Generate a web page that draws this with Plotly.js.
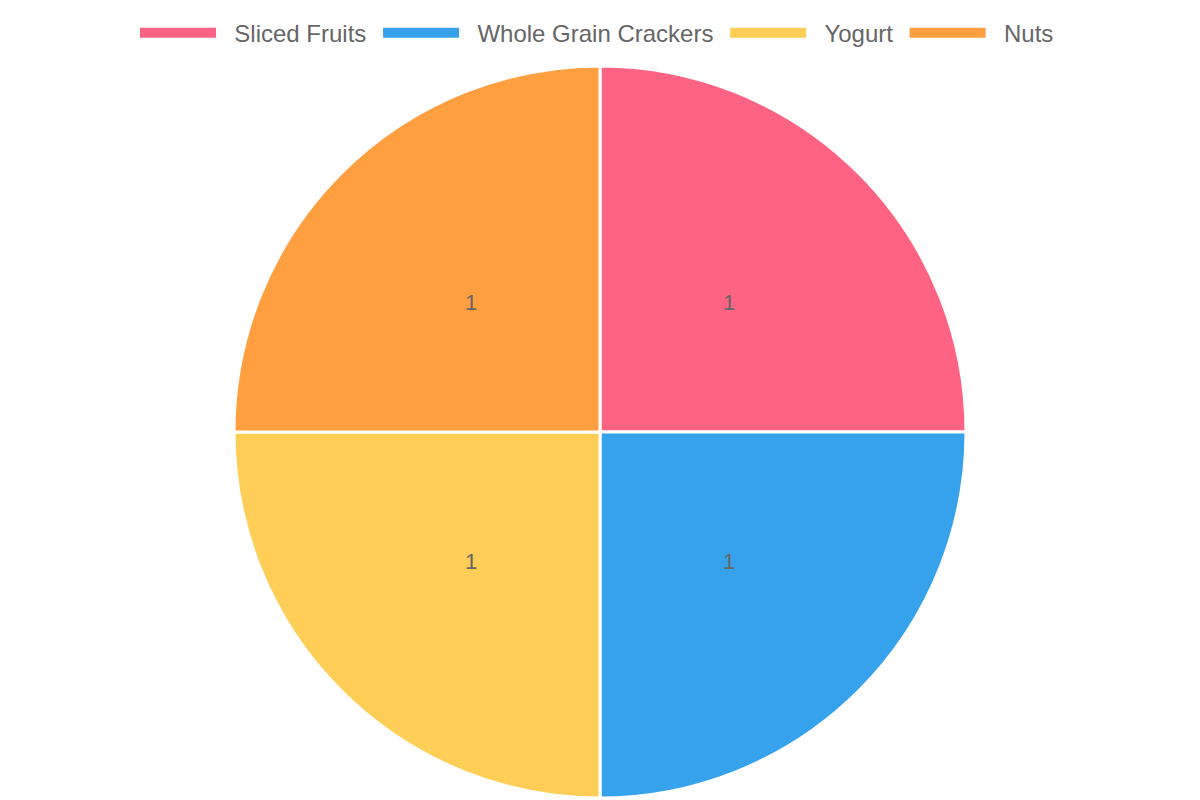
<!DOCTYPE html>
<html>
<head>
<meta charset="utf-8">
<script src="https://cdn.plot.ly/plotly-3.0.1.min.js"></script>
<style>
  html, body { margin: 0; padding: 0; background: #fff; }
  #chart { width: 1200px; height: 800px; }
</style>
</head>
<body>
<div id="chart"></div>
<script>
var snackLabels = ["Sliced Fruits", "Whole Grain Crackers", "Yogurt", "Nuts"];
var snackCounts = [1, 1, 1, 1];
var sliceColors = ["#FF6384", "#36A2EB", "#FFCE56", "#FF9F40"];

var fontFam = "Liberation Sans, Arial, sans-serif";

// pie geometry in pixels (used for the value labels)
var W = 1200, H = 800;
var mt = 66, mb = 2;
var radius = (H - mt - mb) / 2;

var pie = {
    type: "pie",
    labels: snackLabels,
    values: snackCounts,
    textinfo: "none",
    sort: false,
    direction: "clockwise",
    rotation: 0,
    showlegend: false,
    marker: { colors: sliceColors, line: { color: "#ffffff", width: 3 } },
    hoverinfo: "label+value"
};

// legend-only traces so the legend gets wide colour boxes
var legendTraces = snackLabels.map(function(lab, i) {
    return {
        type: "scatter",
        mode: "lines",
        x: [null],
        y: [null],
        name: "\u00a0\u00a0" + lab + "\u00a0",
        line: { color: sliceColors[i], width: 20 },
        hoverinfo: "skip"
    };
});

// value labels placed halfway out along each slice's middle angle
var total = snackCounts.reduce(function(a, b) { return a + b }, 0);
var cum = 0;
var annotations = snackCounts.map(function(v) {
    var mid = (cum + v / 2) / total * 2 * Math.PI;
    cum += v;
    var r = radius * 0.5;
    return {
        xref: "paper", yref: "paper",
        x: 0.5, y: 0.5,
        xshift: r * Math.sin(mid),
        yshift: r * Math.cos(mid),
        text: String(v),
        showarrow: false,
        font: { family: fontFam, size: 22, color: "#666666" }
    };
});

var layout = {
    width: W,
    height: H,
    margin: { t: mt, b: mb, l: 0, r: 0 },
    paper_bgcolor: "#ffffff",
    plot_bgcolor: "#ffffff",
    xaxis: { visible: false },
    yaxis: { visible: false },
    showlegend: true,
    annotations: annotations,
    legend: {
        orientation: "h",
        x: 0.5,
        xanchor: "center",
        y: 1.014,
        yanchor: "bottom",
        itemwidth: 76,
        font: { family: fontFam, size: 24, color: "#666666" },
        traceorder: "normal"
    }
};

Plotly.newPlot("chart", legendTraces.concat([pie]), layout, { displayModeBar: false });
</script>
</body>
</html>
